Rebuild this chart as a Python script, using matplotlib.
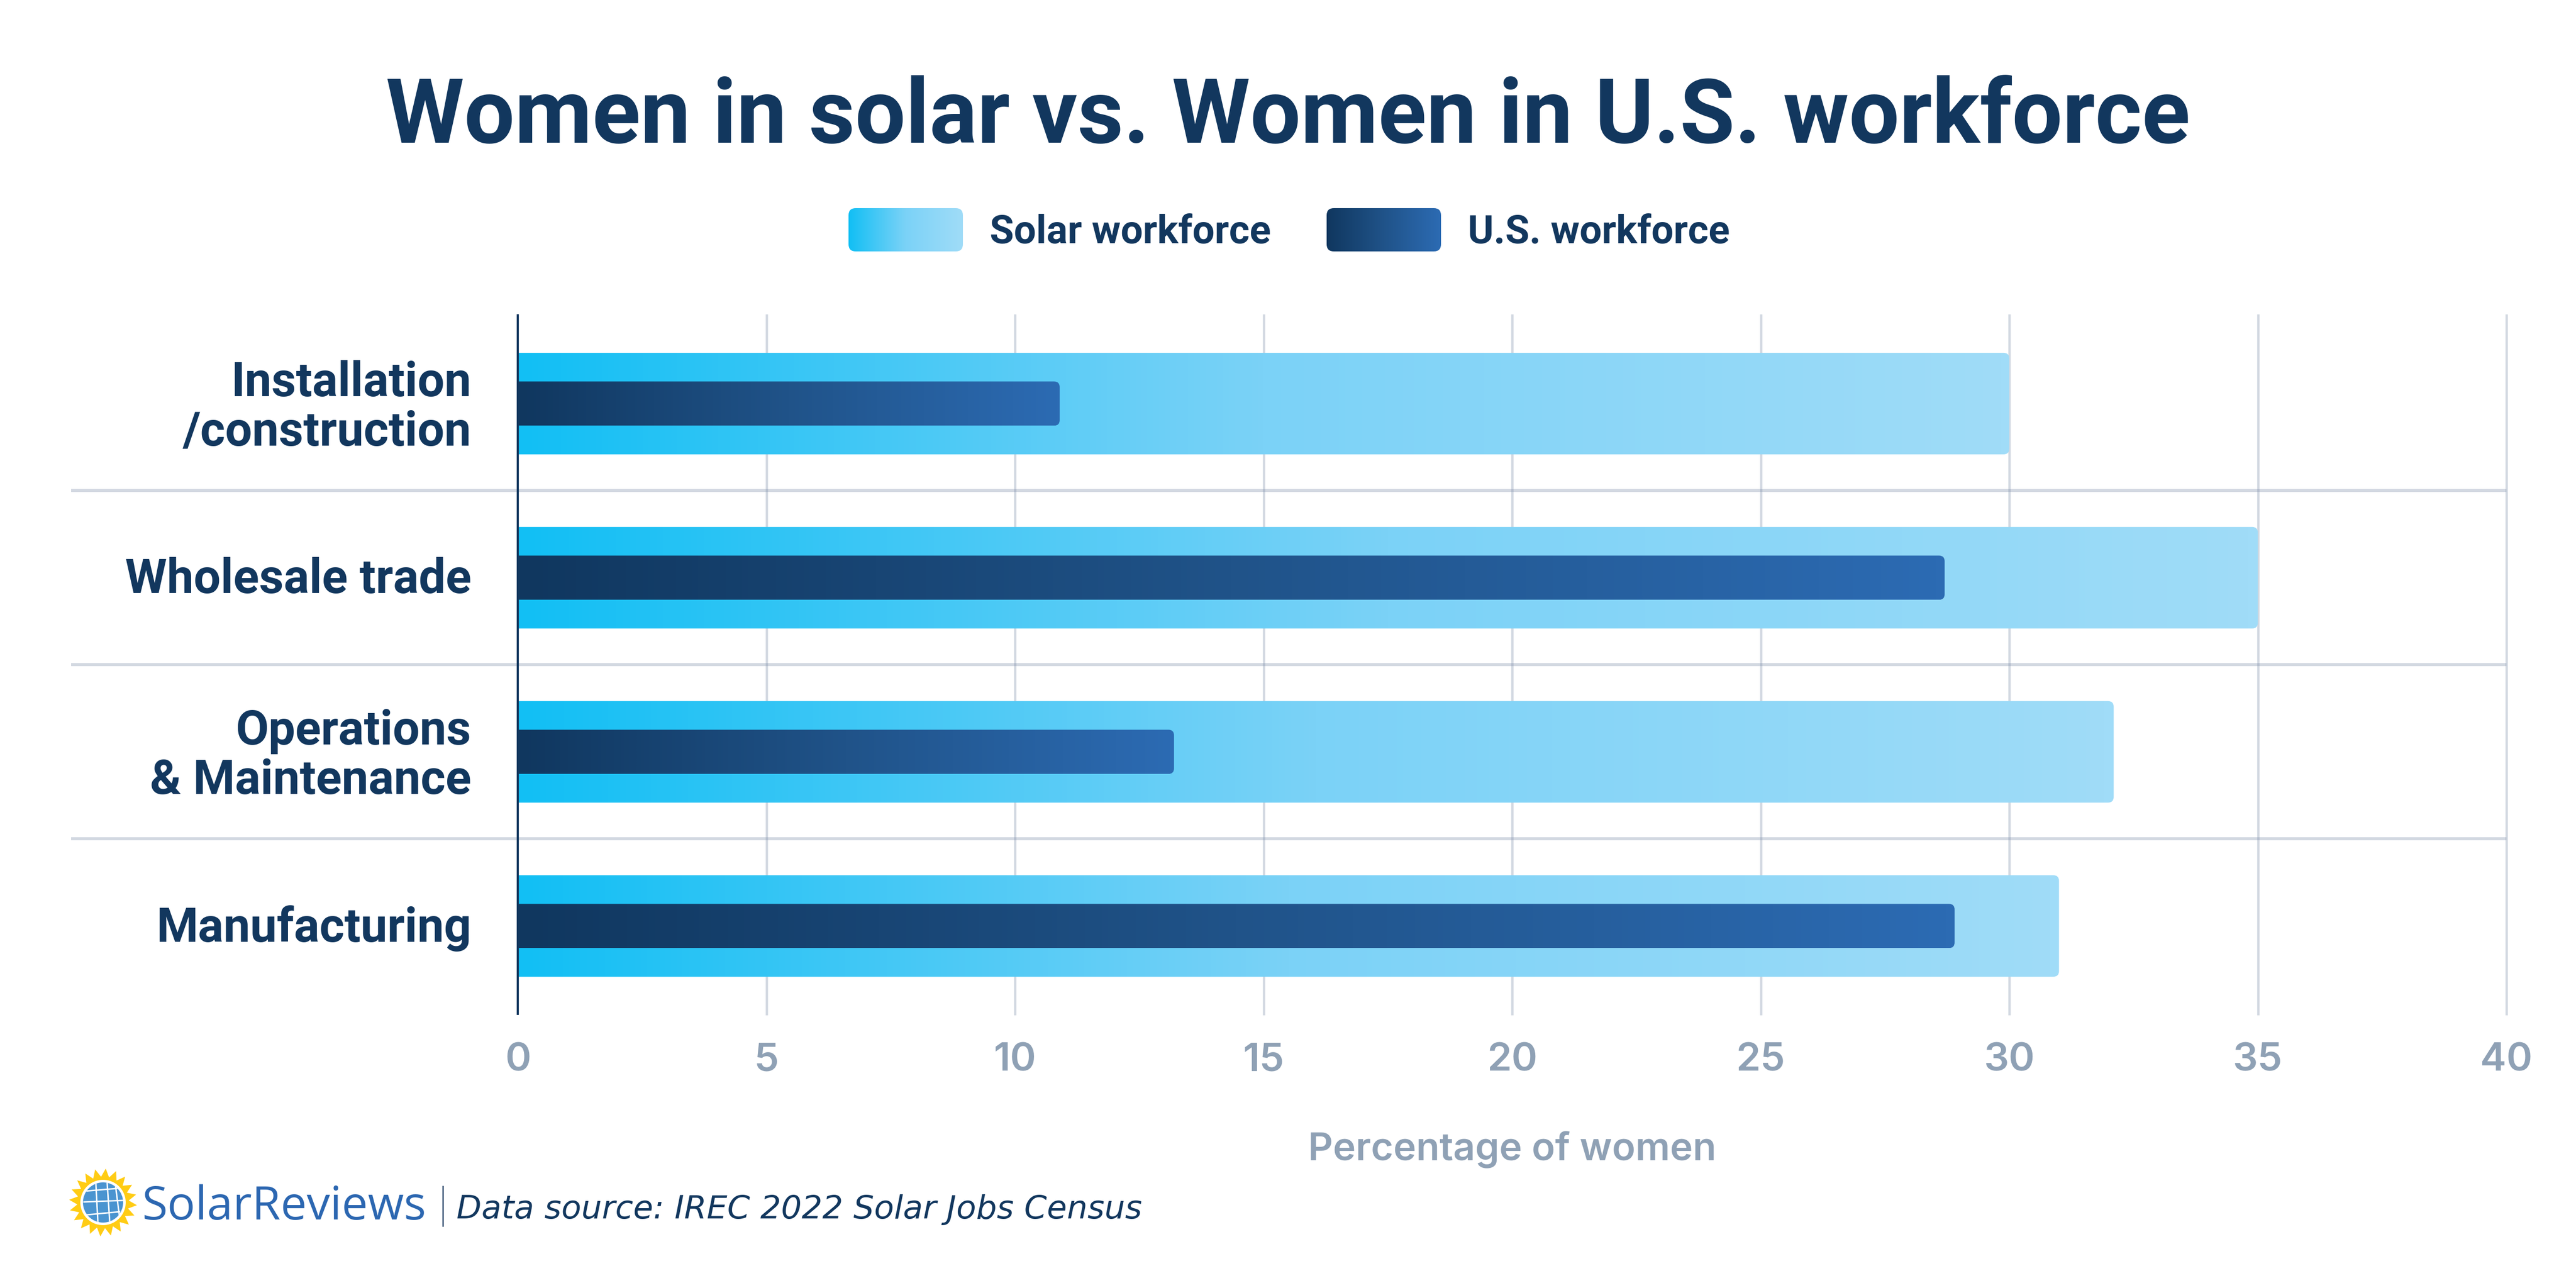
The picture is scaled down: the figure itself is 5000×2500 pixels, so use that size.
import matplotlib
matplotlib.use("Agg")
import matplotlib.pyplot as plt
import numpy as np
from matplotlib.colors import LinearSegmentedColormap
from matplotlib.patches import Circle, PathPatch, Polygon
from matplotlib.path import Path
from matplotlib.transforms import ScaledTranslation

categories = ["Installation\n/construction", "Wholesale trade", "Operations\n& Maintenance", "Manufacturing"]
solar_workforce = [30, 35, 32.1, 31]
us_workforce = [10.9, 28.7, 13.2, 28.9]
x_ticks = [0, 5, 10, 15, 20, 25, 30, 35, 40]

NAVY = "#12375E"
GREY = "#8FA1B5"
GRID = "#7F90AB"
LIGHT_CMAP = LinearSegmentedColormap.from_list("solar", ["#12BFF4", "#7BD2F7", "#A0DCF8"])
DARK_CMAP = LinearSegmentedColormap.from_list("us", ["#10375F", "#205389", "#2C6BB3"])
GRAD = np.linspace(0, 1, 256).reshape(1, -1)

plt.rcParams["font.family"] = ["Inter", "DejaVu Sans"]

fig = plt.figure(figsize=(20, 10), dpi=250, facecolor="white")
# axes box measured in reference pixels
ax = fig.add_axes([1005 / 5000, 1 - 1968 / 2500, 3860 / 5000, 1356 / 2500])
ax.set_xlim(0, 40)
ax.set_ylim(3.505, -0.507)

px_x = 40 / 3860  # data units per pixel
px_y = 4.012 / 1356


def round_bar(value, center, height, radius=11):
    rx, ry = radius * px_x, radius * px_y
    top, bot = center - height / 2, center + height / 2
    verts = [
        (0, top), (value - rx, top), (value, top), (value, top + ry),
        (value, bot - ry), (value, bot), (value - rx, bot), (0, bot), (0, top),
    ]
    codes = [
        Path.MOVETO, Path.LINETO, Path.CURVE3, Path.CURVE3,
        Path.LINETO, Path.CURVE3, Path.CURVE3, Path.LINETO, Path.CLOSEPOLY,
    ]
    return Path(verts, codes)


def gradient_bar(value, center, height, cmap, zorder):
    patch = PathPatch(round_bar(value, center, height), fc="none", ec="none", transform=ax.transData)
    ax.add_patch(patch)
    im = ax.imshow(
        GRAD, cmap=cmap, aspect="auto", zorder=zorder, interpolation="bilinear",
        extent=(0, value, center + height / 2, center - height / 2),
    )
    im.set_clip_path(patch)


for i, (solar, us) in enumerate(zip(solar_workforce, us_workforce)):
    gradient_bar(solar, i, 0.583, LIGHT_CMAP, 3)
    gradient_bar(us, i, 0.254, DARK_CMAP, 4)

ax.set_xlim(0, 40)
ax.set_ylim(3.505, -0.507)

for t in x_ticks[1:]:
    ax.axvline(t, color=GRID, alpha=0.35, lw=1.3, zorder=1, clip_on=False)
for y in [0.5, 1.5, 2.5]:
    ax.plot([-8.98, 40], [y, y], color=GRID, alpha=0.35, lw=1.7, zorder=1, clip_on=False, solid_capstyle="butt")

for side in ["top", "right", "bottom"]:
    ax.spines[side].set_visible(False)
ax.spines["left"].set_color(NAVY)
ax.spines["left"].set_linewidth(1.2)
ax.spines["left"].set_zorder(5)

ax.set_xticks(x_ticks)
ax.set_yticks(range(len(categories)))
ax.set_yticklabels(categories, fontsize=26.7, fontweight="semibold", family="Roboto", color=NAVY,
                   linespacing=1.1, ha="right")
ax.tick_params(axis="y", length=0, pad=26)
ax.tick_params(axis="x", length=0, pad=16, labelsize=22, labelcolor=GREY)
for lab in ax.get_yticklabels():
    lab.set_transform(lab.get_transform() + ScaledTranslation(0, 0.02, fig.dpi_scale_trans))
for lab in ax.get_xticklabels():
    lab.set_fontweight("semibold")
ax.set_xlabel("Percentage of women", fontsize=21.5, fontweight="semibold", color=GREY, labelpad=29)

# overlay in pixel coords for title, legend and logo
ov = fig.add_axes([0, 0, 1, 1], facecolor="none")
ov.set_xlim(0, 5000)
ov.set_ylim(2500, 0)
ov.axis("off")

ov.text(2500, 277, "Women in solar vs. Women in U.S. workforce", fontsize=50, fontweight="bold", family="Roboto",
        color=NAVY, ha="center", va="baseline")


def swatch(x0, x1, y0, y1, cmap):
    r = 14
    verts = [(x0 + r, y0), (x1 - r, y0), (x1, y0), (x1, y0 + r), (x1, y1 - r), (x1, y1), (x1 - r, y1),
             (x0 + r, y1), (x0, y1), (x0, y1 - r), (x0, y0 + r), (x0, y0), (x0 + r, y0)]
    codes = [Path.MOVETO, Path.LINETO, Path.CURVE3, Path.CURVE3, Path.LINETO, Path.CURVE3, Path.CURVE3,
             Path.LINETO, Path.CURVE3, Path.CURVE3, Path.LINETO, Path.CURVE3, Path.CURVE3]
    p = PathPatch(Path(verts, codes), fc="none", ec="none")
    ov.add_patch(p)
    im = ov.imshow(GRAD, cmap=cmap, aspect="auto", extent=(x0, x1, y1, y0))
    im.set_clip_path(p)


swatch(1647, 1869, 404, 488, LIGHT_CMAP)
swatch(2575, 2797, 404, 488, DARK_CMAP)
ov.set_xlim(0, 5000)
ov.set_ylim(2500, 0)
ov.text(1921, 472, "Solar workforce", fontsize=22, fontweight="semibold", family="Roboto", color=NAVY, va="baseline")
ov.text(2849, 472, "U.S. workforce", fontsize=22, fontweight="semibold", family="Roboto", color=NAVY, va="baseline")

# logo
cx, cy = 200, 2334
angles = np.linspace(0, 2 * np.pi, 40, endpoint=False) + 0.08
radii = np.where(np.arange(40) % 2 == 0, 66, 50)
ov.add_patch(Polygon(np.c_[cx + radii * np.cos(angles), cy + radii * np.sin(angles)], fc="#FFCC14", ec="none"))
ov.add_patch(Circle((cx, cy), 44, fc="white", ec="none"))
globe = Circle((cx, cy), 39, fc="#4A94D0", ec="none")
ov.add_patch(globe)
panel_lines = [
    ([163, 238], [2333, 2330]), ([165, 236], [2312, 2306]), ([168, 232], [2358, 2352]),
    ([186, 190], [2296, 2372]), ([208, 213], [2296, 2372]), ([224, 232], [2300, 2362]),
]
for xs, ys in panel_lines:
    ln, = ov.plot(xs, ys, color="white", lw=0.8)
    ln.set_clip_path(globe)
ov.set_xlim(0, 5000)
ov.set_ylim(2500, 0)

ov.text(275, 2367, "SolarReviews", fontsize=26, family="Open Sans", color="#2C67B1", va="baseline")
ov.plot([860, 860], [2303, 2380], color=NAVY, lw=0.7)
ov.text(886, 2365, "Data source: IREC 2022 Solar Jobs Census", fontsize=18.2, family="DejaVu Sans",
        style="italic", color=NAVY, va="baseline")

fig.savefig("out.png", dpi=250)
